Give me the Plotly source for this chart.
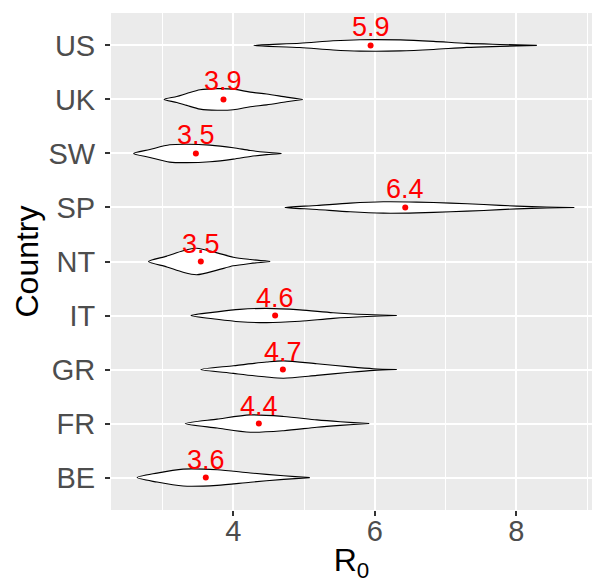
import plotly.graph_objects as go

# Countries (bottom to top) and summary values
countries = ["BE", "FR", "GR", "IT", "NT", "SP", "SW", "UK", "US"]
point_vals = [3.61, 4.36, 4.70, 4.59, 3.54, 6.43, 3.47, 3.86, 5.94]
label_txt = ["3.6", "4.4", "4.7", "4.6", "3.5", "6.4", "3.5", "3.9", "5.9"]

# Violin outlines: R0 positions and half-widths (in row units)
BE_x = [2.64, 2.92, 3.29, 3.77, 4.24, 4.71, 5.08]
BE_w = [0.0, 0.083, 0.157, 0.145, 0.086, 0.034, 0.0]
FR_x = [3.32, 3.77, 4.24, 4.71, 5.18, 5.51, 5.92]
FR_w = [0.0, 0.083, 0.160, 0.132, 0.068, 0.034, 0.0]
GR_x = [3.54, 4.00, 4.47, 4.71, 5.18, 5.65, 5.98, 6.31]
GR_w = [0.0, 0.071, 0.139, 0.160, 0.108, 0.049, 0.015, 0.0]
IT_x = [3.40, 3.77, 4.09, 4.47, 4.94, 5.41, 5.89, 6.31]
IT_w = [0.0, 0.068, 0.114, 0.132, 0.105, 0.052, 0.018, 0.0]
NT_x = [2.80, 3.06, 3.29, 3.48, 3.77, 4.00, 4.24, 4.52]
NT_w = [0.0, 0.100, 0.200, 0.245, 0.160, 0.080, 0.037, 0.0]
SP_x = [4.73, 5.18, 5.65, 6.12, 6.59, 7.07, 7.54, 8.01, 8.43, 8.82]
SP_w = [0.0, 0.037, 0.080, 0.105, 0.100, 0.080, 0.055, 0.025, 0.009, 0.0]
SW_x = [2.59, 2.82, 3.10, 3.34, 3.67, 4.00, 4.24, 4.47, 4.68]
SW_w = [0.0, 0.074, 0.160, 0.170, 0.154, 0.105, 0.055, 0.022, 0.0]
UK_x = [3.02, 3.20, 3.34, 3.53, 3.77, 4.00, 4.24, 4.47, 4.75, 4.98]
UK_w = [0.0, 0.055, 0.110, 0.180, 0.200, 0.190, 0.135, 0.100, 0.043, 0.0]
US_x = [4.29, 4.94, 5.41, 5.79, 6.36, 6.83, 7.30, 7.77, 8.29]
US_w = [0.0, 0.040, 0.085, 0.105, 0.102, 0.075, 0.037, 0.018, 0.0]

x_ticks = [4, 6, 8]

profiles = {
    "BE": (BE_x, BE_w), "FR": (FR_x, FR_w), "GR": (GR_x, GR_w),
    "IT": (IT_x, IT_w), "NT": (NT_x, NT_w), "SP": (SP_x, SP_w),
    "SW": (SW_x, SW_w), "UK": (UK_x, UK_w), "US": (US_x, US_w),
}

FONT = "Liberation Sans, Arial, Helvetica, sans-serif"

fig = go.Figure()
for i, c in enumerate(countries):
    row = i + 1
    xs, ws = profiles[c]
    px = list(xs) + list(reversed(xs))
    py = [row + w for w in ws] + [row - w for w in reversed(ws)]
    fig.add_trace(go.Scatter(
        x=px, y=py, mode="lines", fill="toself", fillcolor="white",
        line=dict(color="black", width=1.1, shape="spline", smoothing=0.8),
        hoverinfo="skip", showlegend=False,
    ))

fig.add_trace(go.Scatter(
    x=point_vals, y=list(range(1, len(countries) + 1)), mode="markers",
    marker=dict(color="red", size=6), showlegend=False, hoverinfo="skip",
))

for i, (v, t) in enumerate(zip(point_vals, label_txt)):
    fig.add_annotation(x=v, y=i + 1, text=t, showarrow=False, yshift=18,
                       font=dict(color="red", size=27, family=FONT))

fig.update_layout(
    width=593, height=583,
    margin=dict(l=111, r=1, t=13, b=73),
    paper_bgcolor="white", plot_bgcolor="#EBEBEB",
    font=dict(family=FONT),
)
fig.update_xaxes(
    range=[2.27, 9.07], tickvals=x_ticks, ticktext=[str(v) for v in x_ticks],
    showgrid=True, gridcolor="white", gridwidth=2,
    minor=dict(dtick=1, tick0=0, showgrid=True, gridcolor="white", gridwidth=1, ticklen=0),
    ticks="outside", ticklen=5, tickwidth=2, tickcolor="#333333",
    ticklabelstandoff=-10,
    tickfont=dict(size=29, color="#4D4D4D", family=FONT),
    title=dict(text="R<sub>0</sub>", font=dict(size=32, color="black", family=FONT), standoff=8),
    zeroline=False, showline=False,
)
fig.update_yaxes(
    range=[0.4, 9.6], tickvals=list(range(1, len(countries) + 1)), ticktext=countries,
    showgrid=True, gridcolor="white", gridwidth=2,
    ticks="outside", ticklen=5, tickwidth=2, tickcolor="#333333",
    ticklabelstandoff=4,
    tickfont=dict(size=29, color="#4D4D4D", family=FONT),
    title=dict(text="Country", font=dict(size=32, color="black", family=FONT), standoff=0),
    zeroline=False, showline=False,
)

fig.write_html("out.html", config={"displayModeBar": False},
               post_script="document.body.style.margin='0';document.body.style.overflow='hidden';")
